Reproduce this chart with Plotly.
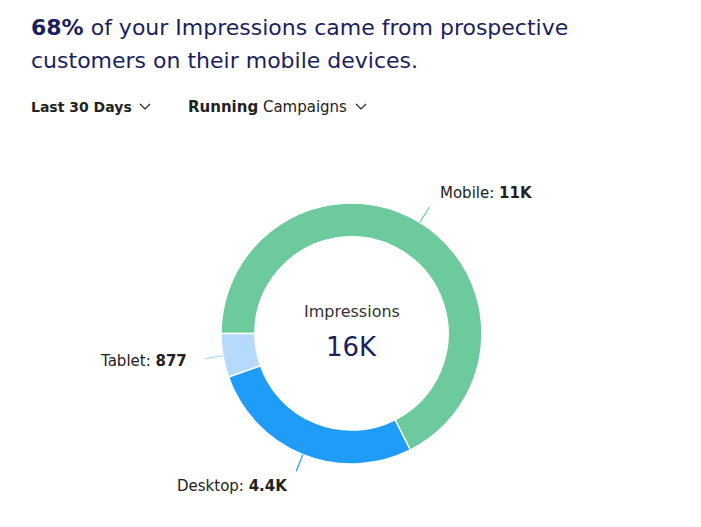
import math
import plotly.graph_objects as go

# ---- data ----
devices = ["Mobile", "Desktop", "Tablet"]
impressions = [10950, 4380, 877]
display_values = ["11K", "4.4K", "877"]
slice_colors = ["#6DCA9C", "#1E9CF8", "#B5DAFC"]
center_label = "Impressions"
center_value = "16K"
headline_bold = "68%"
headline_rest_1 = " of your Impressions came from prospective"
headline_line_2 = "customers on their mobile devices."
filter_1 = "Last 30 Days"
filter_2_bold = "Running"
filter_2_rest = " Campaigns"

# ---- layout constants ----
W, H = 701, 527
CX, CY, R = 351.5, 333.5, 130.5
START_DEG = 270  # first slice starts at 9 o'clock, clockwise
FONT = "DejaVu Sans"
NAVY = "#1B1F5E"
TEXT = "#222222"


def px(x):
    return x / W


def py(y):
    return 1 - y / H


fig = go.Figure()
fig.add_trace(go.Pie(
    labels=devices,
    values=impressions,
    hole=0.74,
    sort=False,
    direction="clockwise",
    rotation=START_DEG,
    marker=dict(colors=slice_colors, line=dict(color="white", width=1.5)),
    textinfo="none",
    hoverinfo="label+value",
    showlegend=False,
    domain=dict(x=[px(CX - R), px(CX + R)], y=[py(CY + R), py(CY - R)]),
))

annotations = []
shapes = []
total = sum(impressions)
cum = 0
for name, val, disp, col in zip(devices, impressions, display_values, slice_colors):
    mid = START_DEG + (cum + val / 2) / total * 360
    cum += val
    a = math.radians(mid)
    dx, dy = math.sin(a), -math.cos(a)
    x0, y0 = CX + R * dx, CY + R * dy
    x1, y1 = CX + (R + 18) * dx, CY + (R + 18) * dy
    shapes.append(dict(type="line", xref="paper", yref="paper",
                       x0=px(x0), y0=py(y0), x1=px(x1), y1=py(y1),
                       line=dict(color=col, width=1.2)))
    lx, ly = CX + (R + 34) * dx, CY + (R + 34) * dy
    annotations.append(dict(
        x=px(lx), y=py(ly), xref="paper", yref="paper",
        text=f"{name}: <b>{disp}</b>", showarrow=False,
        xanchor="left" if dx > 0 else "right", yanchor="middle",
        font=dict(family=FONT, size=15, color=TEXT)))

# center text
annotations.append(dict(x=px(CX), y=py(311), xref="paper", yref="paper",
                        text=center_label, showarrow=False, xanchor="center", yanchor="middle",
                        font=dict(family=FONT, size=16, color="#333333")))
annotations.append(dict(x=px(CX), y=py(347), xref="paper", yref="paper",
                        text=center_value, showarrow=False, xanchor="center", yanchor="middle",
                        font=dict(family=FONT, size=26, color=NAVY)))

# headline
annotations.append(dict(x=px(29), y=py(27), xref="paper", yref="paper",
                        text=f"<b>{headline_bold}</b>{headline_rest_1}", showarrow=False,
                        xanchor="left", yanchor="middle",
                        font=dict(family=FONT, size=22, color=NAVY)))
annotations.append(dict(x=px(29), y=py(60), xref="paper", yref="paper",
                        text=headline_line_2, showarrow=False,
                        xanchor="left", yanchor="middle",
                        font=dict(family=FONT, size=22, color=NAVY)))

# filters
annotations.append(dict(x=px(29), y=py(107), xref="paper", yref="paper",
                        text=f"<b>{filter_1}</b>", showarrow=False,
                        xanchor="left", yanchor="middle",
                        font=dict(family=FONT, size=14, color=TEXT)))
annotations.append(dict(x=px(186), y=py(107), xref="paper", yref="paper",
                        text=f"<b>{filter_2_bold}</b>{filter_2_rest}", showarrow=False,
                        xanchor="left", yanchor="middle",
                        font=dict(family=FONT, size=15, color=TEXT)))

# chevrons
for cxv in (145, 361):
    shapes.append(dict(type="path", xref="paper", yref="paper",
                       path=f"M {px(cxv-5)} {py(104)} L {px(cxv)} {py(109)} L {px(cxv+5)} {py(104)}",
                       line=dict(color=TEXT, width=1.2)))

fig.update_layout(
    width=W, height=H,
    margin=dict(l=0, r=0, t=0, b=0),
    paper_bgcolor="white", plot_bgcolor="white",
    annotations=annotations, shapes=shapes,
    showlegend=False,
)

fig.write_html("out.html")
